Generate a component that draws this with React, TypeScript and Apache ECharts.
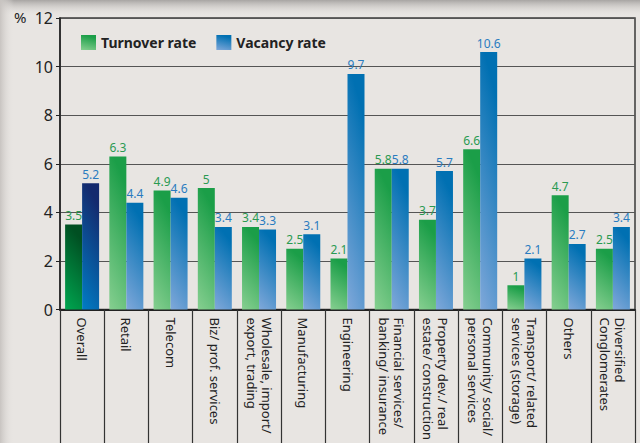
import React, { useEffect, useRef } from "react";
import * as echarts from "echarts";

const categories = [
  "Overall",
  "Retail",
  "Telecom",
  "Biz/ prof. services",
  "Wholesale, import/\nexport, trading",
  "Manufacturing",
  "Engineering",
  "Financial services/\nbanking/ insurance",
  "Property dev./ real\nestate/ construction",
  "Community/ social/\npersonal services",
  "Transport/ related\nservices (storage)",
  "Others",
  "Diversified\nConglomerates",
];
const turnoverRate = [3.5, 6.3, 4.9, 5, 3.4, 2.5, 2.1, 5.8, 3.7, 6.6, 1, 4.7, 2.5];
const vacancyRate = [5.2, 4.4, 4.6, 3.4, 3.3, 3.1, 9.7, 5.8, 5.7, 10.6, 2.1, 2.7, 3.4];
const yTicks = { min: 0, max: 12, interval: 2 };

const FONT = "'Noto Sans', 'Open Sans', sans-serif";

const grad = (top: string, bottom: string) =>
  new echarts.graphic.LinearGradient(0.25, 0, 0, 1, [
    { offset: 0, color: top },
    { offset: 1, color: bottom },
  ]);

export default function App() {
  const ref = useRef<HTMLDivElement>(null);
  useEffect(() => {
    if (!ref.current) return;
    const chart = echarts.init(ref.current, null, { renderer: "svg" });
    const greenData = turnoverRate.map((v, i) =>
      i === 0 ? { value: v, itemStyle: { color: grad("#004f22", "#00a650") } } : v
    );
    const blueData = vacancyRate.map((v, i) =>
      i === 0 ? { value: v, itemStyle: { color: grad("#142a6e", "#007dc5") } } : v
    );
    chart.setOption({
      animation: false,
      backgroundColor: "#e8e5e2",
      textStyle: { fontFamily: FONT },
      graphic: [
        {
          type: "rect",
          left: 0,
          top: 0,
          shape: { width: 640, height: 16 },
          style: {
            fill: new echarts.graphic.LinearGradient(0, 0, 0, 1, [
              { offset: 0, color: "#a8a5a3" },
              { offset: 1, color: "rgba(232,229,226,0)" },
            ]),
          },
          z: -1,
        },
        {
          type: "rect",
          left: 0,
          top: 0,
          shape: { width: 14, height: 443 },
          style: {
            fill: new echarts.graphic.LinearGradient(0, 0, 1, 0, [
              { offset: 0, color: "rgba(200,196,193,1)" },
              { offset: 1, color: "rgba(232,229,226,0)" },
            ]),
          },
          z: -1,
        },
        {
          type: "text",
          left: 14,
          top: 9,
          style: { text: "%", fontSize: 15, fill: "#222", fontFamily: FONT },
        },
      ],
      grid: {
        left: 60,
        right: 5,
        top: 18,
        bottom: 131,
        show: true,
        borderColor: "#3a3a3a",
        borderWidth: 1.5,
        backgroundColor: "transparent",
        containLabel: false,
      },
      legend: {
        top: 30,
        left: 76,
        itemWidth: 15,
        itemHeight: 15,
        itemGap: 20,
        icon: "rect",
        textStyle: { fontSize: 14, fontWeight: "bold", color: "#222", fontFamily: FONT },
        data: ["Turnover rate", "Vacancy rate"],
      },
      xAxis: {
        type: "category",
        data: categories,
        axisLine: { lineStyle: { color: "#222", width: 2 } },
        axisTick: {
          show: true,
          interval: 0,
          length: 135,
          lineStyle: { color: "#333", width: 1.2 },
        },
        axisLabel: {
          interval: 0,
          rotate: -90,
          margin: 8,
          fontSize: 13,
          lineHeight: 15,
          color: "#222",
          fontFamily: FONT,
        },
      },
      yAxis: {
        type: "value",
        min: yTicks.min,
        max: yTicks.max,
        interval: yTicks.interval,
        axisLine: { show: true, lineStyle: { color: "#222", width: 1.5 } },
        axisTick: { show: true, length: 4, lineStyle: { color: "#222" } },
        axisLabel: { fontSize: 16, color: "#222", margin: 7, fontFamily: FONT },
        splitLine: { lineStyle: { color: "#555", width: 1.2 } },
      },
      series: [
        {
          name: "Turnover rate",
          type: "bar",
          data: greenData,
          barWidth: 17,
          barGap: "0%",
          itemStyle: { color: grad("#1b9e48", "#86cf90") },
          label: {
            show: true,
            position: "top",
            distance: 3,
            fontSize: 12,
            color: "#2a9a52",
            fontFamily: FONT,
          },
        },
        {
          name: "Vacancy rate",
          type: "bar",
          data: blueData,
          barWidth: 17,
          itemStyle: { color: grad("#0070b2", "#80a8da") },
          label: {
            show: true,
            position: "top",
            distance: 3,
            fontSize: 12,
            color: "#2a7cc0",
            fontFamily: FONT,
          },
        },
      ],
    });
    return () => chart.dispose();
  }, []);
  return (
    <div
      ref={ref}
      style={{ position: "fixed", left: 0, top: 0, width: 640, height: 443 }}
    />
  );
}
